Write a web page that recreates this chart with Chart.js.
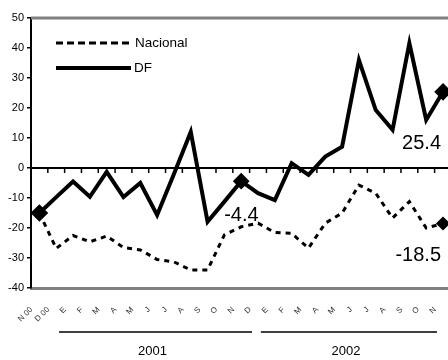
<!DOCTYPE html>
<html>
<head>
<meta charset="utf-8">
<script src="https://cdn.jsdelivr.net/npm/chart.js@4"></script>
<style>
  html, body { margin: 0; padding: 0; background: #fff; overflow: hidden; }
  #wrap { width: 467px; height: 360px; }
</style>
</head>
<body>
<div id="wrap"><canvas id="chart"></canvas></div>
<script>
// monthly series, Nov 2000 .. Nov 2002
const months = ['N 00', 'D 00',
  'E', 'F', 'M', 'A', 'M', 'J', 'J', 'A', 'S', 'O', 'N', 'D',
  'E', 'F', 'M', 'A', 'M', 'J', 'J', 'A', 'S', 'O', 'N'];
const years = ['2001', '2002'];
const nacional = [-15, -26.8, -22.5, -24.6, -22.7, -26.5, -27.3, -30.5, -31.3, -34, -34, -22.3, -19.6,
  -18.4, -21.5, -21.8, -26.7, -18.4, -15, -5.7, -8.4, -16.7, -11.2, -20, -18.5];
const df = [-15, -9.7, -4.5, -9.6, -1.3, -9.7, -5, -15.7, -2, 12, -17.9, -11.2, -4.4,
  -8.4, -10.7, 1.6, -2.3, 3.8, 7.1, 36, 19.3, 12.7, 41.6, 16, 25.4];
const yMin = -40, yMax = 50, yStep = 10;

const last = months.length - 1;
const dfMarks = months.map((m, i) => (i === 0 || i === last) ? 6 : (i === 12 ? 5.5 : 0));
const nacMarks = months.map((m, i) => (i === last) ? 5 : 0);

const decor = {
  id: 'decor',
  beforeDatasetsDraw(chart) {
    const { ctx, chartArea: a, scales: { x, y } } = chart;
    ctx.save();
    const y0 = y.getPixelForValue(0);
    ctx.strokeStyle = '#000';
    ctx.lineWidth = 2;
    ctx.beginPath(); ctx.moveTo(a.left, y0); ctx.lineTo(a.right, y0); ctx.stroke();
    const w = x.getPixelForValue(1) - x.getPixelForValue(0);
    ctx.lineWidth = 1.5;
    for (let i = 0; i < months.length; i++) {
      const px = x.getPixelForValue(i) + w / 2;
      ctx.beginPath(); ctx.moveTo(px, y0); ctx.lineTo(px, y0 + 5); ctx.stroke();
    }
    ctx.restore();
  },
  afterDatasetsDraw(chart) {
    const { ctx, chartArea: a, scales: { x } } = chart;
    ctx.save();
    // top frame line
    ctx.strokeStyle = '#808080';
    ctx.lineWidth = 3;
    ctx.beginPath(); ctx.moveTo(a.left, a.top); ctx.lineTo(a.right, a.top); ctx.stroke();

    // legend inside plot
    ctx.strokeStyle = '#000';
    ctx.lineWidth = 3;
    ctx.setLineDash([7, 4]);
    ctx.beginPath(); ctx.moveTo(a.left + 25, a.top + 25); ctx.lineTo(a.left + 102, a.top + 25); ctx.stroke();
    ctx.setLineDash([]);
    ctx.lineWidth = 4;
    ctx.beginPath(); ctx.moveTo(a.left + 25, a.top + 50); ctx.lineTo(a.left + 100, a.top + 50); ctx.stroke();
    ctx.fillStyle = '#000';
    ctx.font = '13.5px "Liberation Sans", Arial, sans-serif';
    ctx.textBaseline = 'middle';
    ctx.textAlign = 'left';
    ctx.fillText('Nacional', a.left + 104, a.top + 25);
    ctx.fillText('DF', a.left + 103, a.top + 50);

    // value labels
    const dfPts = chart.getDatasetMeta(1).data;
    const nacPts = chart.getDatasetMeta(0).data;
    ctx.font = '20px "Liberation Sans", Arial, sans-serif';
    ctx.fillText(df[12].toFixed(1), dfPts[12].x - 17, dfPts[12].y + 34);
    ctx.textAlign = 'right';
    ctx.fillText(df[last].toFixed(1), dfPts[last].x - 2, dfPts[last].y + 52);
    ctx.fillText(nacional[last].toFixed(1), nacPts[last].x - 2, nacPts[last].y + 32);

    // year groups
    const groups = [[2, 13], [14, last]];
    ctx.lineWidth = 1.5;
    ctx.font = '13px "Liberation Sans", Arial, sans-serif';
    ctx.textAlign = 'center';
    groups.forEach((g, k) => {
      const x1 = x.getPixelForValue(g[0]) - 14;
      const x2 = x.getPixelForValue(g[1]) - 6;
      ctx.beginPath(); ctx.moveTo(x1, 332); ctx.lineTo(x2, 332); ctx.stroke();
      ctx.fillText(years[k], (x1 + x2) / 2 - 3, 351);
    });
    ctx.restore();
  }
};

new Chart(document.getElementById('chart'), {
  type: 'line',
  data: {
    labels: months,
    datasets: [{
      label: 'Nacional',
      data: nacional,
      borderColor: '#000',
      backgroundColor: '#000',
      borderWidth: 3,
      borderDash: [5, 5],
      pointStyle: 'rectRot',
      pointRadius: nacMarks,
      tension: 0
    }, {
      label: 'DF',
      data: df,
      borderColor: '#000',
      backgroundColor: '#000',
      borderWidth: 4,
      pointStyle: 'rectRot',
      pointRadius: dfMarks,
      tension: 0
    }]
  },
  options: {
    responsive: true,
    maintainAspectRatio: false,
    animation: false,
    layout: { padding: { top: 18, right: 0, left: 0, bottom: 0 } },
    plugins: { legend: { display: false }, tooltip: { enabled: false } },
    scales: {
      x: {
        offset: true,
        afterFit: (s) => { s.height = 72; },
        grid: { display: true, drawOnChartArea: false, drawTicks: false },
        border: { color: '#808080', width: 3 },
        ticks: {
          autoSkip: false, maxRotation: 45, minRotation: 45,
          padding: 17, labelOffset: -8,
          color: '#333',
          font: { size: 8, family: '"Liberation Sans", Arial, sans-serif' }
        }
      },
      y: {
        min: yMin, max: yMax,
        afterFit: (s) => { s.width = 31; },
        grid: { drawOnChartArea: false, drawTicks: true, tickLength: 4, color: '#000', lineWidth: 1.5 },
        border: { color: '#000', width: 2 },
        ticks: {
          stepSize: yStep, padding: 3, color: '#000',
          font: { size: 11, family: '"Liberation Sans", Arial, sans-serif' }
        }
      }
    }
  },
  plugins: [decor]
});
</script>
</body>
</html>
